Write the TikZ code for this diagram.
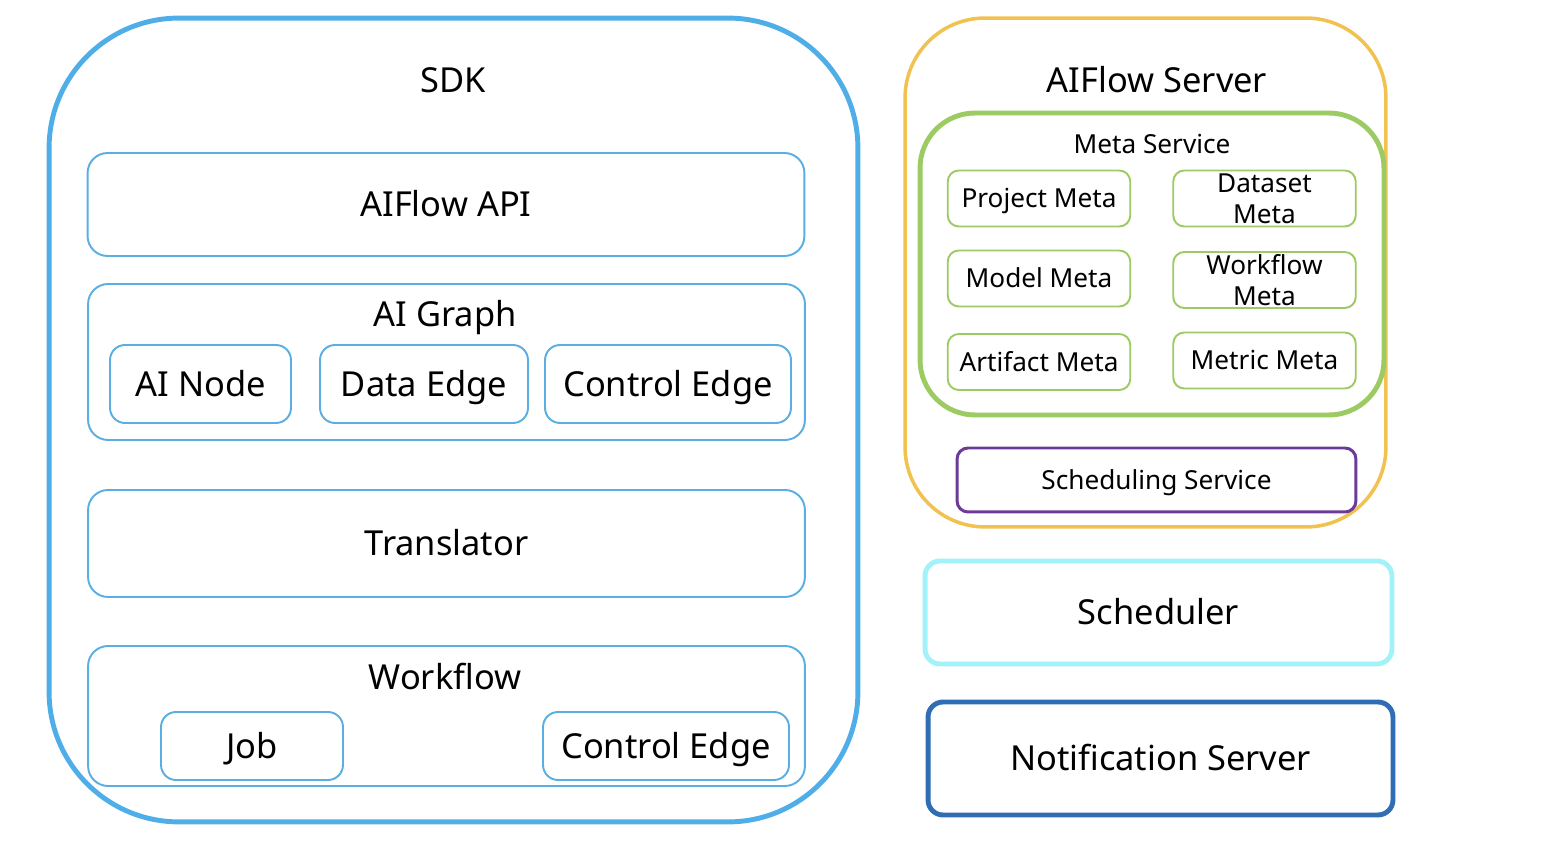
\documentclass[tikz,border=0pt]{standalone}
\usepackage{fontspec}
\setmainfont{Noto Sans}
\usepackage{xcolor}
\usepackage{tikz}
\definecolor{sdkblue}{HTML}{4FAEE7}
\definecolor{boxblue}{HTML}{5AAEE2}
\definecolor{srvyellow}{HTML}{F1C24F}
\definecolor{metagreen}{HTML}{9DCB63}
\definecolor{schedpurple}{HTML}{6C3B97}
\definecolor{schedcyan}{HTML}{A2F2FA}
\definecolor{notifblue}{HTML}{2F6DB4}
\tikzset{
  bigtxt/.style={font=\fontsize{19.6}{23}\selectfont, text height=14pt, text depth=0pt},
  smalltxt/.style={font=\fontsize{14.9}{17.6}\selectfont},
  smallone/.style={smalltxt, text height=10.6pt, text depth=0pt},
  sdkbox/.style={draw=sdkblue, line width=2.8pt, rounded corners=2.6cm, inner sep=0pt},
  layerbox/.style={draw=boxblue, line width=1.1pt, rounded corners=0.4cm, inner sep=0pt,
    minimum width=14.34cm, bigtxt},
  itembox/.style={draw=boxblue, line width=1.1pt, rounded corners=0.3cm, inner sep=0pt, bigtxt},
  serverbox/.style={draw=srvyellow, line width=2pt, rounded corners=1.6cm, inner sep=0pt},
  metabox/.style={draw=metagreen, line width=2.8pt, rounded corners=1.1cm, inner sep=0pt},
  metaitem/.style={draw=metagreen, line width=1.1pt, rounded corners=0.22cm, inner sep=0pt,
    minimum width=3.65cm, minimum height=1.12cm, align=center, smalltxt},
  svcbox/.style={draw=schedpurple, line width=1.7pt, rounded corners=0.22cm, inner sep=0pt, smallone},
  sysbox/.style={line width=2.8pt, rounded corners=0.3cm, inner sep=0pt, bigtxt},
}

\begin{document}
\begin{tikzpicture}[x=0.02cm, y=-0.02cm]
  \useasboundingbox (0,0) rectangle (1560,854);

  \node[sdkbox, minimum width=16.18cm, minimum height=16.08cm] (sdk) at (453.5,420) {};
  \node[bigtxt] (sdklab) at (453,80) {SDK};
  \node[layerbox, minimum height=2.06cm] (aiapi) at (446,204.5) {AIFlow API};
  \node[layerbox, minimum height=3.12cm] (aigraph) at (446.5,362) {};
  \node[bigtxt] (graphlab) at (445,314) {AI Graph};
  \node[itembox, minimum width=3.62cm, minimum height=1.56cm] (ainode) at (200.5,384) {AI Node};
  \node[itembox, minimum width=4.16cm, minimum height=1.56cm] (dataedge) at (424,384) {Data Edge};
  \node[itembox, minimum width=4.92cm, minimum height=1.56cm] (ctrledge) at (668,384) {Control Edge};
  \node[layerbox, minimum height=2.14cm] (translator) at (446.5,543.5) {Translator};
  \node[layerbox, minimum height=2.8cm] (workflow) at (446.5,716) {};
  \node[bigtxt] (wflab) at (445,677) {Workflow};
  \node[itembox, minimum width=3.64cm, minimum height=1.36cm] (job) at (252,746) {Job};
  \node[itembox, minimum width=4.92cm, minimum height=1.36cm] (wfedge) at (666,746) {Control Edge};

  \node[serverbox, minimum width=9.62cm, minimum height=10.18cm] (server) at (1145.5,272.5) {};
  \node[bigtxt] (serverlab) at (1157,80) {AIFlow Server};
  \node[metabox, minimum width=9.28cm, minimum height=6.04cm] (meta) at (1152,264) {};
  \node[smallone] (metalab) at (1152,144) {Meta Service};
  \node[metaitem, smallone] (projmeta) at (1039,198.5) {Project Meta};
  \node[metaitem] (datameta) at (1264.5,198.5) {Dataset\\Meta};
  \node[metaitem, smallone] (modelmeta) at (1039,278.5) {Model Meta};
  \node[metaitem] (wfmeta) at (1264.5,280) {Workflow\\Meta};
  \node[metaitem, smallone] (artmeta) at (1039,362) {Artifact Meta};
  \node[metaitem, smallone] (metricmeta) at (1264.5,360.5) {Metric Meta};
  \node[svcbox, minimum width=7.98cm, minimum height=1.28cm] (schedsvc) at (1156.5,480) {Scheduling Service};

  \node[sysbox, draw=schedcyan, minimum width=9.34cm, minimum height=2.06cm] (scheduler) at (1158.5,612.5) {Scheduler};
  \node[sysbox, draw=notifblue, minimum width=9.3cm, minimum height=2.26cm] (notif) at (1160.5,758.5) {Notification Server};
\end{tikzpicture}
\end{document}
